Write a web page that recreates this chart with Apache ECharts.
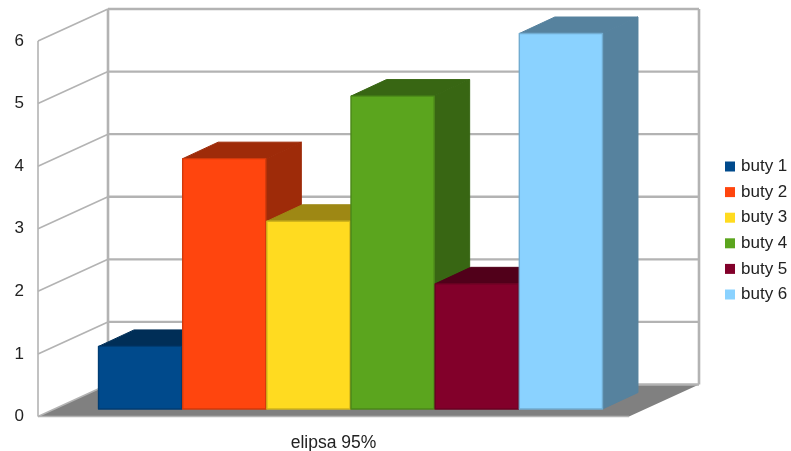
<!DOCTYPE html>
<html>
<head>
<meta charset="utf-8">
<style>html,body{margin:0;padding:0;background:#fff}#chart{width:791px;height:451px}</style>
<script src="https://cdn.jsdelivr.net/npm/echarts@6/dist/echarts.min.js"></script>
</head>
<body>
<div id="chart"></div>
<script>
const categories = ['elipsa 95%'];
const seriesNames = ['buty 1', 'buty 2', 'buty 3', 'buty 4', 'buty 5', 'buty 6'];
const seriesValues = [1, 4, 3, 5, 2, 6];
const tickLabels = [0, 1, 2, 3, 4, 5, 6];
const colors = ['#004a8c', '#ff450e', '#ffdb20', '#5ba51e', '#82002a', '#8ad2ff'];

// Oblique projection of the 3D box: pixel shift per unit of depth.
const wallDepth = [70, -32];
const barFront = [17.5, -7.5];
const barBack = [53, -24];
const barShare = 0.1424;
const sideGap = 0.0728;

const gridColor = '#b3b3b3';
const textColor = '#222222';

// Scales a hex colour toward black for the shaded faces of a box.
function darken(hex, factor) {
  const n = parseInt(hex.slice(1), 16);
  const r = Math.round(((n >> 16) & 255) * factor);
  const g = Math.round(((n >> 8) & 255) * factor);
  const b = Math.round((n & 255) * factor);
  return 'rgb(' + r + ',' + g + ',' + b + ')';
}
function poly(points, fill, stroke, width) {
  return {
    type: 'polygon',
    shape: { points },
    style: { fill, stroke: stroke || fill, lineWidth: width === undefined ? 1 : width, lineJoin: 'round' }
  };
}
function line(a, b, width) {
  return {
    type: 'line',
    shape: { x1: a[0], y1: a[1], x2: b[0], y2: b[1] },
    style: { stroke: gridColor, lineWidth: width }
  };
}
function shift(p, d) {
  return [p[0] + d[0], p[1] + d[1]];
}

// Back wall, side wall and floor, with one gridline per tick.
function renderWalls(params, api) {
  const v = api.value(1);
  const c = api.coord([0, v]);
  const band = api.size([1, 0])[0];
  const left = [c[0] - band / 2, c[1]];
  const backLeft = shift(left, wallDepth);
  const backRight = [backLeft[0] + band, backLeft[1]];
  const children = [
    line(left, backLeft, 1.6),
    line(backLeft, backRight, 2.4)
  ];
  if (v === 0) {
    const right = [left[0] + band, left[1]];
    children.unshift(poly([left, backLeft, backRight, right], '#808080', '#808080', 0));
    children.push(line(left, right, 1.4));
    const top = api.coord([0, tickLabels[tickLabels.length - 1]]);
    const topBack = shift([left[0], top[1]], wallDepth);
    children.push(line([left[0], left[1]], [left[0], top[1]], 1.6));
    children.push(line(backLeft, topBack, 2.6));
    children.push(line(backRight, [backRight[0], topBack[1]], 2.6));
  }
  return { type: 'group', children };
}

function renderBar(index) {
  return function (params, api) {
    const c = api.coord([0, 0]);
    const topY = api.coord([0, api.value(1)])[1];
    const band = api.size([1, 0])[0];
    const x0 = c[0] - band / 2 + band * sideGap + index * band * barShare;
    const x1 = x0 + band * barShare - 1;
    const color = colors[index];
    const shade = darken(color, 0.62);
    const edge = darken(color, 0.82);
    const fbl = shift([x0, c[1]], barFront);
    const fbr = shift([x1, c[1]], barFront);
    const ftl = shift([x0, topY], barFront);
    const ftr = shift([x1, topY], barFront);
    const btl = shift([x0, topY], barBack);
    const btr = shift([x1, topY], barBack);
    const bbr = shift([x1, c[1]], barBack);
    return {
      type: 'group',
      children: [
        poly([ftl, btl, btr, ftr], shade),
        poly([ftr, btr, bbr, fbr], shade),
        poly([ftl, ftr, fbr, fbl], color, edge, 1.4)
      ]
    };
  };
}

const chart = echarts.init(document.getElementById('chart'), null, { renderer: 'canvas' });
chart.setOption({
  animation: false,
  backgroundColor: '#ffffff',
  textStyle: { fontFamily: 'Liberation Sans' },
  grid: { left: 38, right: 162, top: 41, bottom: 34.5, containLabel: false, outerBoundsMode: 'none' },
  legend: {
    data: seriesNames,
    orient: 'vertical',
    left: 725,
    top: 157,
    icon: 'rect',
    itemWidth: 10,
    itemHeight: 10,
    itemGap: 6.6,
    selectedMode: false,
    padding: 0,
    textStyle: { fontSize: 17, color: textColor, padding: [0, 0, 0, 1], lineHeight: 19, height: 19 }
  },
  xAxis: {
    type: 'category',
    data: categories,
    axisLine: { show: false },
    axisTick: { show: false },
    splitLine: { show: false },
    axisLabel: { fontSize: 17.5, color: textColor, margin: 18 }
  },
  yAxis: {
    type: 'value',
    min: 0,
    max: 6,
    interval: 1,
    axisLine: { show: false },
    axisTick: { show: false },
    splitLine: { show: false },
    axisLabel: { fontSize: 17, color: textColor, margin: 14 }
  },
  series: [
    {
      type: 'custom',
      name: 'wall',
      silent: true,
      clip: false,
      renderItem: renderWalls,
      encode: { x: 0, y: 1 },
      data: tickLabels.map(t => [0, t]),
      z: 1
    }
  ].concat(seriesNames.map((name, i) => ({
    type: 'custom',
    name,
    clip: false,
    renderItem: renderBar(i),
    encode: { x: 0, y: 1 },
    itemStyle: { color: colors[i] },
    data: [[0, seriesValues[i]]],
    z: 2 + i
  })))
});
</script>
</body>
</html>
